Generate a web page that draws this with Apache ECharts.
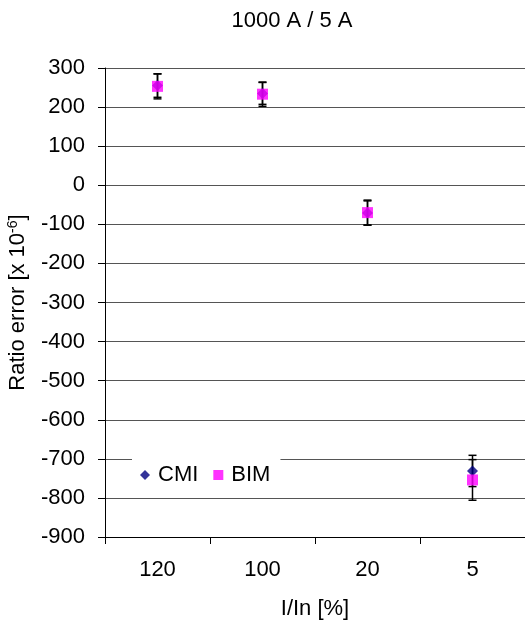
<!DOCTYPE html>
<html>
<head>
<meta charset="utf-8">
<script src="https://cdn.jsdelivr.net/npm/echarts@6/dist/echarts.min.js"></script>
<style>
  html, body { margin: 0; padding: 0; background: #fff; }
  #chart { width: 525px; height: 623px; }
</style>
</head>
<body>
<div id="chart"></div>
<script>
// Current ratio categories (I/In in %)
const categories = ['120', '100', '20', '5'];

// Ratio error in units of 1e-6, with expanded uncertainty
const cmiValues = [255, 235, -71, -731];
const cmiErrors = [30, 28, 31, 40];
const bimValues = [253, 233, -70, -754];
const bimErrors = [32, 31, 32, 52];

const yTicks = { min: -900, max: 300, interval: 100 };

const FONT = 'Liberation Sans, Arial, sans-serif';

function errorData(values, errors) {
  return values.map((v, i) => [i, v - errors[i], v + errors[i]]);
}

function renderErrorBar(params, api) {
  const x = api.value(0);
  const lo = api.coord([x, api.value(1)]);
  const hi = api.coord([x, api.value(2)]);
  const half = 4;
  const style = { stroke: '#000', lineWidth: 1.5, fill: null };
  return {
    type: 'group',
    children: [
      { type: 'line', shape: { x1: hi[0], y1: hi[1], x2: lo[0], y2: lo[1] }, style },
      { type: 'line', shape: { x1: hi[0] - half, y1: hi[1], x2: hi[0] + half, y2: hi[1] }, style },
      { type: 'line', shape: { x1: lo[0] - half, y1: lo[1], x2: lo[0] + half, y2: lo[1] }, style }
    ]
  };
}

const chart = echarts.init(document.getElementById('chart'), null, { renderer: 'canvas' });

chart.setOption({
  animation: false,
  backgroundColor: '#fff',
  textStyle: { fontFamily: FONT, color: '#000' },
  title: {
    text: '1000 A / 5 A',
    left: 287,
    top: 5,
    textAlign: 'center',
    textStyle: { fontFamily: FONT, fontSize: 22, fontWeight: 'normal', color: '#000' }
  },
  legend: {
    left: 132,
    top: 456,
    padding: [8, 10, 8, 8],
    backgroundColor: '#fff',
    itemWidth: 10,
    itemHeight: 10,
    itemGap: 15,
    itemStyle: { borderWidth: 0 },
    textStyle: { fontFamily: FONT, fontSize: 22, color: '#000', padding: [0, 0, 0, 3] },
    data: [
      { name: 'CMI', icon: 'diamond' },
      { name: 'BIM', icon: 'rect' }
    ],
    z: 10
  },
  grid: { left: 105, right: 0, top: 68, bottom: 86, containLabel: false, outerBoundsMode: 'none' },
  xAxis: {
    type: 'category',
    data: categories,
    boundaryGap: true,
    name: 'I/In [%]',
    nameLocation: 'middle',
    nameGap: 61,
    nameTextStyle: { fontFamily: FONT, fontSize: 22, color: '#000' },
    axisLine: { onZero: false, lineStyle: { color: '#000', width: 1 } },
    axisTick: { show: true, length: 7, inside: false, lineStyle: { color: '#000' } },
    axisLabel: { margin: 22, fontFamily: FONT, fontSize: 22, color: '#000' },
    splitLine: { show: false }
  },
  yAxis: {
    type: 'value',
    min: yTicks.min,
    max: yTicks.max,
    interval: yTicks.interval,
    name: '{a|Ratio error [x 10}{s|-6}{a|]}',
    nameLocation: 'middle',
    nameGap: 72,
    nameRotate: 90,
    nameTextStyle: {
      rich: {
        a: { fontFamily: FONT, fontSize: 22, color: '#000', lineHeight: 24 },
        s: { fontFamily: FONT, fontSize: 14, color: '#000', verticalAlign: 'top', lineHeight: 24, padding: [0, 0, 10, 0] }
      }
    },
    axisLine: { show: true, lineStyle: { color: '#000', width: 1 } },
    axisTick: { show: true, length: 7, lineStyle: { color: '#000' } },
    axisLabel: { margin: 20, fontFamily: FONT, fontSize: 22, color: '#000' },
    splitLine: { show: true, lineStyle: { color: '#555', width: 1 } }
  },
  series: [
    {
      name: 'CMI err',
      type: 'custom',
      renderItem: renderErrorBar,
      data: errorData(cmiValues, cmiErrors),
      encode: { x: 0, y: [1, 2] },
      z: 2,
      silent: true
    },
    {
      name: 'BIM err',
      type: 'custom',
      renderItem: renderErrorBar,
      data: errorData(bimValues, bimErrors),
      encode: { x: 0, y: [1, 2] },
      z: 2,
      silent: true
    },
    {
      name: 'CMI',
      type: 'scatter',
      symbol: 'diamond',
      symbolSize: [11, 11],
      itemStyle: { color: '#000080' },
      data: cmiValues,
      z: 3
    },
    {
      name: 'BIM',
      type: 'scatter',
      symbol: 'rect',
      symbolSize: 11,
      itemStyle: { color: '#FF00FF' },
      data: bimValues,
      z: 4
    }
  ]
});
</script>
</body>
</html>
